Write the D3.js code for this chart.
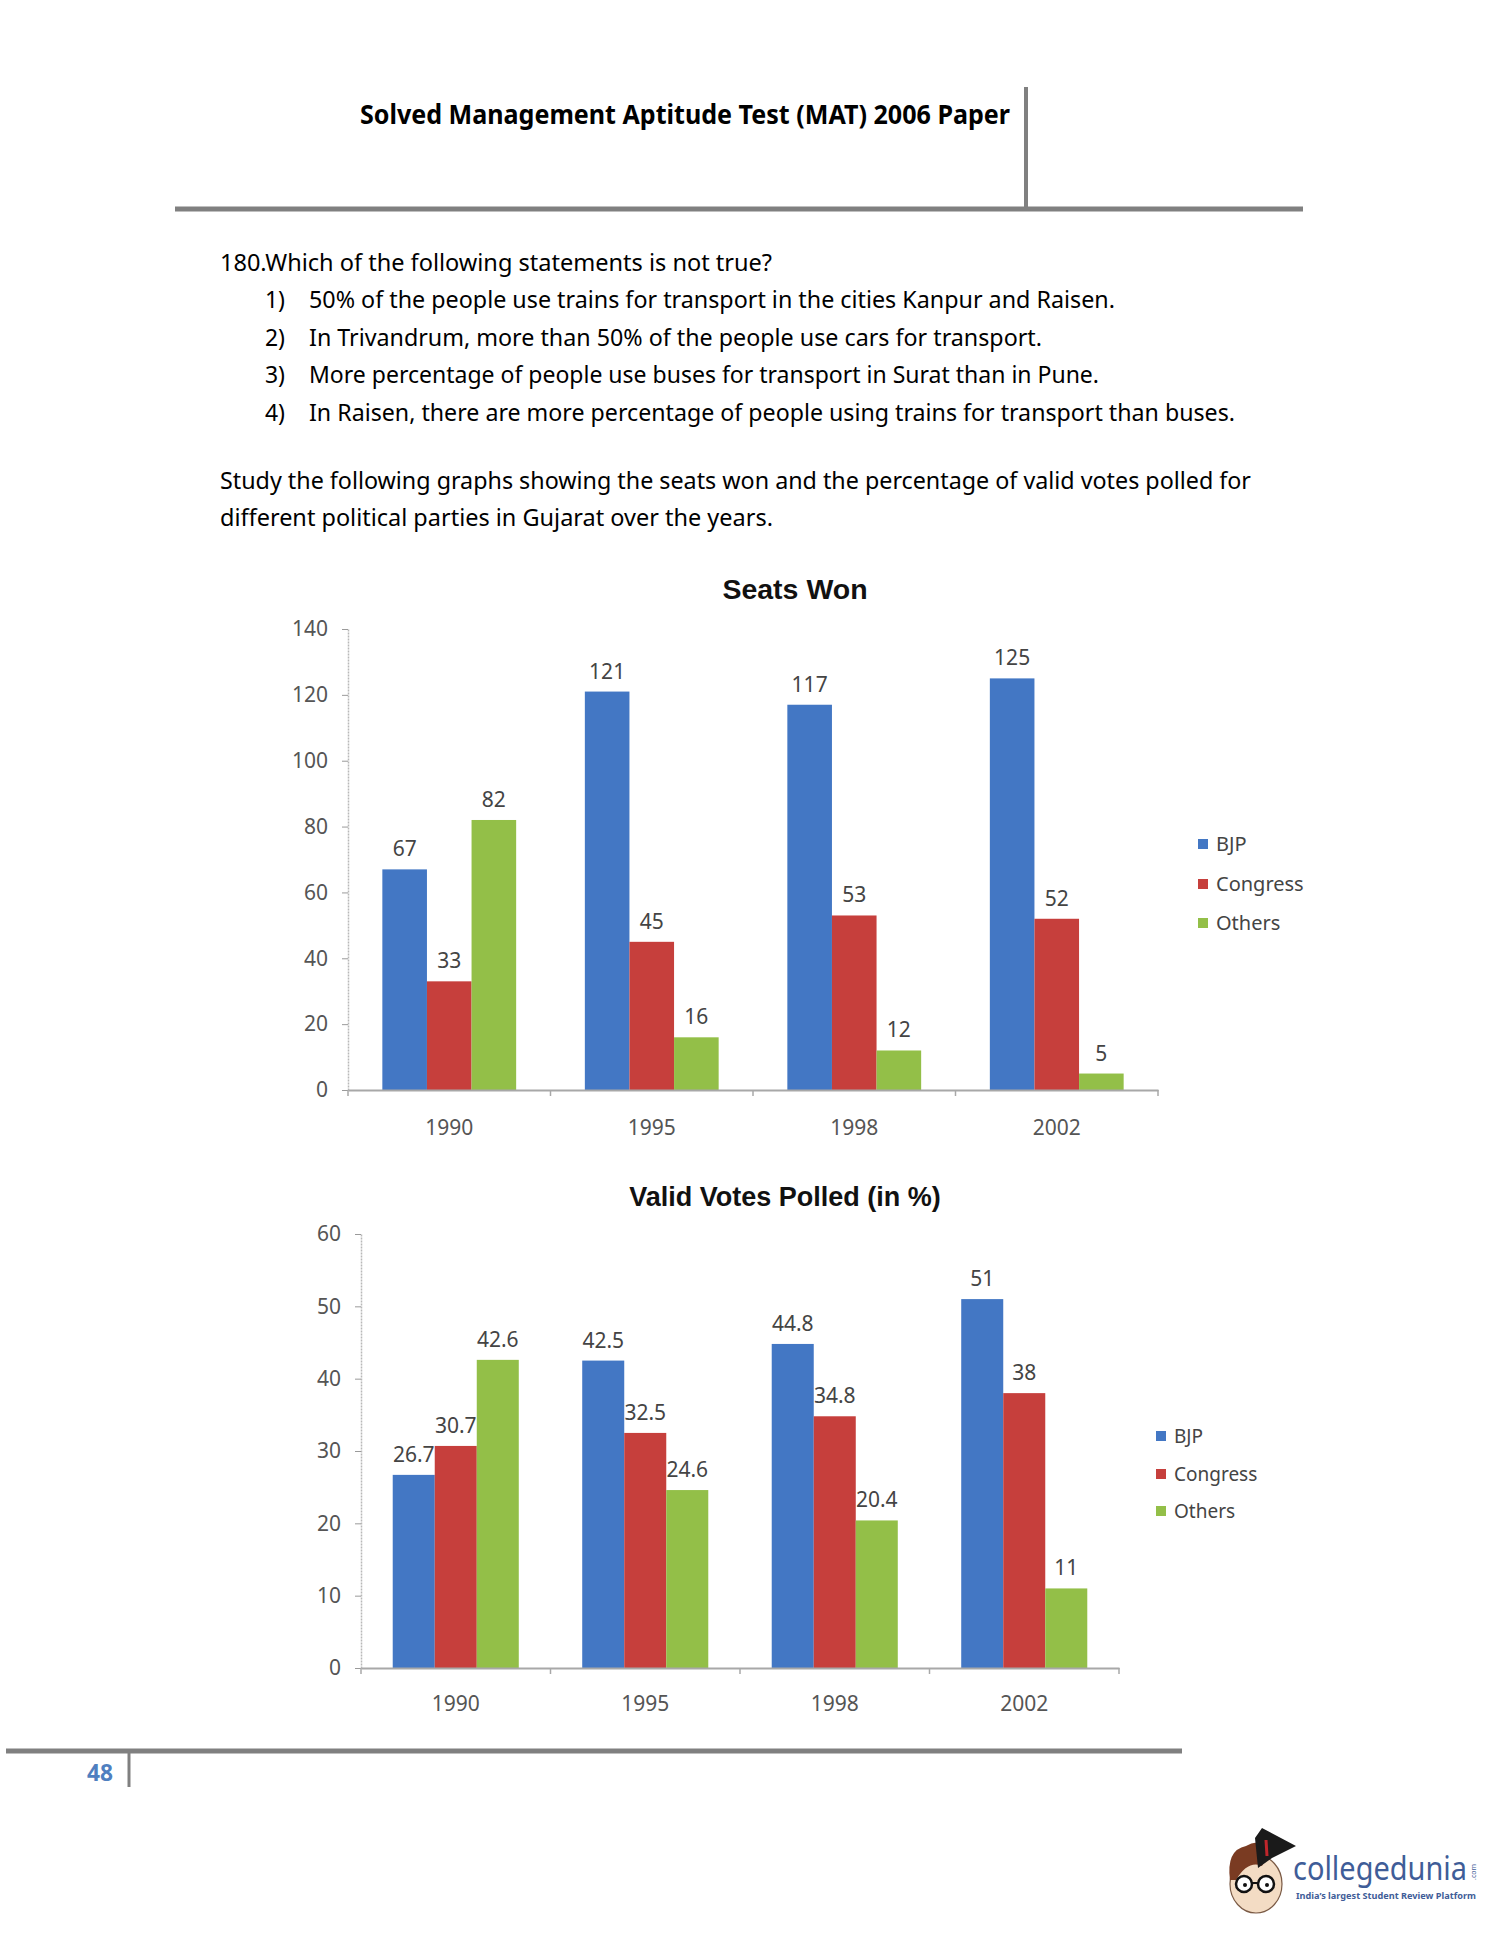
<!DOCTYPE html>
<html><head><meta charset="utf-8">
<script src="https://cdn.jsdelivr.net/npm/d3@7/dist/d3.min.js"></script>
<style>body{margin:0;background:#fff}svg{display:block}</style>
</head><body>
<script>
const categories = ["1990","1995","1998","2002"];
const parties = ["BJP","Congress","Others"];
const seatsBJP = [67,121,117,125];
const seatsCongress = [33,45,53,52];
const seatsOthers = [82,16,12,5];
const votesBJP = [26.7,42.5,44.8,51];
const votesCongress = [30.7,32.5,34.8,38];
const votesOthers = [42.6,24.6,20.4,11];
const seatTicks = [0,20,40,60,80,100,120,140];
const voteTicks = [0,10,20,30,40,50,60];

const colors = {BJP:"#4377C4", Congress:"#C63F3C", Others:"#93BF48"};
const W = 1500, H = 1941;
const svg = d3.select("body").append("svg").attr("width",W).attr("height",H);
svg.append("rect").attr("width",W).attr("height",H).attr("fill","#fff");

const bodyFont = "'Noto Sans', 'Open Sans', sans-serif";
// Header
svg.append("text").attr("x",360).attr("y",124).attr("font-family",bodyFont).attr("font-weight","bold")
  .attr("font-size",27).attr("textLength",650).attr("lengthAdjust","spacingAndGlyphs").attr("fill","#000")
  .text("Solved Management Aptitude Test (MAT) 2006 Paper");
svg.append("line").attr("x1",1026).attr("x2",1026).attr("y1",87).attr("y2",209).attr("stroke","#808080").attr("stroke-width",4);
svg.append("line").attr("x1",175).attr("x2",1303).attr("y1",209).attr("y2",209).attr("stroke","#808080").attr("stroke-width",5);

// Question text
const qLines = [
  {x:220, y:271, w:552, t:"180.Which of the following statements is not true?"},
  {x:309, y:308, w:806, t:"50% of the people use trains for transport in the cities Kanpur and Raisen.", n:"1)"},
  {x:309, y:346, w:733, t:"In Trivandrum, more than 50% of the people use cars for transport.", n:"2)"},
  {x:309, y:383, w:790, t:"More percentage of people use buses for transport in Surat than in Pune.", n:"3)"},
  {x:309, y:421, w:926, t:"In Raisen, there are more percentage of people using trains for transport than buses.", n:"4)"},
  {x:220, y:489, w:1031, t:"Study the following graphs showing the seats won and the percentage of valid votes polled for"},
  {x:220, y:526, w:553, t:"different political parties in Gujarat over the years."}
];
qLines.forEach(l=>{
  svg.append("text").attr("x",l.x).attr("y",l.y).attr("font-family",bodyFont).attr("font-size",23)
    .attr("textLength",l.w).attr("lengthAdjust","spacingAndGlyphs").attr("fill","#000").text(l.t);
  if(l.n) svg.append("text").attr("x",265).attr("y",l.y).attr("font-family",bodyFont).attr("font-size",23)
    .attr("textLength",20).attr("lengthAdjust","spacingAndGlyphs").attr("fill","#000").text(l.n);
});

const chartFont = "'Noto Sans', sans-serif";
function drawChart(cfg){
  const g = svg.append("g");
  const x0 = d3.scaleBand().domain(categories).range([cfg.x0, cfg.x1]).padding(0);
  const x1 = d3.scaleBand().domain(parties).range([0, x0.bandwidth()]).paddingInner(0).paddingOuter(cfg.po);
  const y = d3.scaleLinear().domain([0, cfg.max]).range([cfg.yb, cfg.yt]);
  // title
  g.append("text").attr("x",cfg.tx).attr("y",cfg.ty).attr("text-anchor","middle")
    .attr("font-family","'Liberation Sans', Arial, sans-serif").attr("font-weight","bold").attr("font-size",cfg.tfs)
    .attr("fill","#111").text(cfg.title);
  // y axis
  const ya = g.append("g").attr("transform",`translate(${cfg.x0},0)`)
    .call(d3.axisLeft(y).tickValues(cfg.ticks).tickSize(6).tickSizeOuter(0).tickPadding(14));
  ya.select(".domain").attr("stroke","#b8b8b8").attr("stroke-width",1.5).attr("stroke-dasharray","2,1");
  ya.selectAll(".tick line").attr("stroke","#9a9a9a");
  ya.selectAll(".tick text").attr("font-family",chartFont).attr("font-size",21).attr("fill","#555");
  // bars
  const series = cfg.series;
  categories.forEach((c,i)=>{
    parties.forEach((p,j)=>{
      const v = series[j][i];
      g.append("rect").attr("x",x0(c)+x1(p)).attr("y",y(v)).attr("width",x1.bandwidth())
        .attr("height",y(0)-y(v)).attr("fill",colors[p]);
      g.append("text").attr("x",x0(c)+x1(p)+x1.bandwidth()/2).attr("y",y(v)-13)
        .attr("text-anchor","middle").attr("font-family",chartFont).attr("font-size",21)
        .attr("fill","#444").text(v);
    });
  });
  // x axis
  const xa = g.append("g").attr("transform",`translate(0,${y(0)})`)
    .call(d3.axisBottom(x0).tickSize(0).tickPadding(cfg.xpad));
  xa.select(".domain").attr("stroke","#a8a8a8").attr("stroke-width",2);
  xa.selectAll(".tick text").attr("font-family",chartFont).attr("font-size",21).attr("fill","#555");
  const bounds = categories.map(c=>x0(c)).concat([cfg.x1]);
  g.selectAll(null).data(bounds).enter().append("line")
    .attr("x1",d=>d).attr("x2",d=>d).attr("y1",y(0)).attr("y2",y(0)+6).attr("stroke","#a8a8a8").attr("stroke-width",1.5);
  // legend
  parties.forEach((p,j)=>{
    g.append("rect").attr("x",cfg.lx).attr("y",cfg.ly[j]-5).attr("width",10).attr("height",10).attr("fill",colors[p]);
    g.append("text").attr("x",cfg.lx+18).attr("y",cfg.ly[j]+7).attr("font-family",chartFont)
      .attr("font-size",cfg.lfs).attr("fill","#444").text(p);
  });
}

drawChart({title:"Seats Won", tx:795, ty:599, tfs:28.5, x0:348, x1:1158, po:0.77, max:140, yb:1090, yt:629, xpad:30,
  ticks:seatTicks, series:[seatsBJP,seatsCongress,seatsOthers], lx:1198, ly:[844,884,923], lfs:20});
drawChart({title:"Valid Votes Polled (in %)", tx:785, ty:1206, tfs:27, x0:361, x1:1119, po:0.755, max:60, yb:1668, yt:1234, xpad:28,
  ticks:voteTicks, series:[votesBJP,votesCongress,votesOthers], lx:1156, ly:[1436,1474,1511], lfs:19});

// Footer
svg.append("line").attr("x1",6).attr("x2",1182).attr("y1",1751).attr("y2",1751).attr("stroke","#808080").attr("stroke-width",5);
svg.append("line").attr("x1",129).attr("x2",129).attr("y1",1751).attr("y2",1787).attr("stroke","#808080").attr("stroke-width",3);
svg.append("text").attr("x",113).attr("y",1781).attr("text-anchor","end").attr("font-family",bodyFont)
  .attr("font-weight","bold").attr("font-size",24).attr("textLength",26).attr("lengthAdjust","spacingAndGlyphs")
  .attr("fill","#4F7FC0").text("48");

// Logo
const logo = svg.append("g");
logo.append("ellipse").attr("cx",1256).attr("cy",1884).attr("rx",26).attr("ry",29).attr("fill","#f3dcc4").attr("stroke","#7a5a45").attr("stroke-width",1.2);
logo.append("path").attr("d","M1230,1880 Q1226,1850 1246,1846 Q1258,1838 1270,1848 L1262,1866 Q1248,1860 1236,1880 Z").attr("fill","#7a3b22");
logo.append("path").attr("d","M1255,1838 L1262,1828 L1296,1846 L1272,1858 L1258,1868 Z").attr("fill","#1a1a1a");
logo.append("path").attr("d","M1266,1840 L1267,1856").attr("stroke","#c0262b").attr("stroke-width",3);
logo.append("circle").attr("cx",1244).attr("cy",1884).attr("r",8).attr("fill","#fff").attr("stroke","#111").attr("stroke-width",2.5);
logo.append("circle").attr("cx",1266).attr("cy",1884).attr("r",8).attr("fill","#fff").attr("stroke","#111").attr("stroke-width",2.5);
logo.append("line").attr("x1",1252).attr("x2",1258).attr("y1",1883).attr("y2",1883).attr("stroke","#111").attr("stroke-width",2);
logo.append("circle").attr("cx",1245).attr("cy",1885).attr("r",2).attr("fill","#111");
logo.append("circle").attr("cx",1267).attr("cy",1885).attr("r",2).attr("fill","#111");
logo.append("text").attr("x",1293).attr("y",1880).attr("font-family",bodyFont).attr("font-size",33)
  .attr("textLength",174).attr("lengthAdjust","spacingAndGlyphs").attr("fill","#3F5D98").text("collegedunia");
logo.append("text").attr("x",1296).attr("y",1899).attr("font-family",bodyFont).attr("font-weight","bold").attr("font-size",9)
  .attr("textLength",180).attr("lengthAdjust","spacingAndGlyphs").attr("fill","#3F5D98").text("India’s largest Student Review Platform");
logo.append("text").attr("transform","translate(1476,1880) rotate(-90)").attr("font-family",bodyFont).attr("font-size",7)
  .attr("fill","#3F5D98").text(".com");
</script>
</body></html>
